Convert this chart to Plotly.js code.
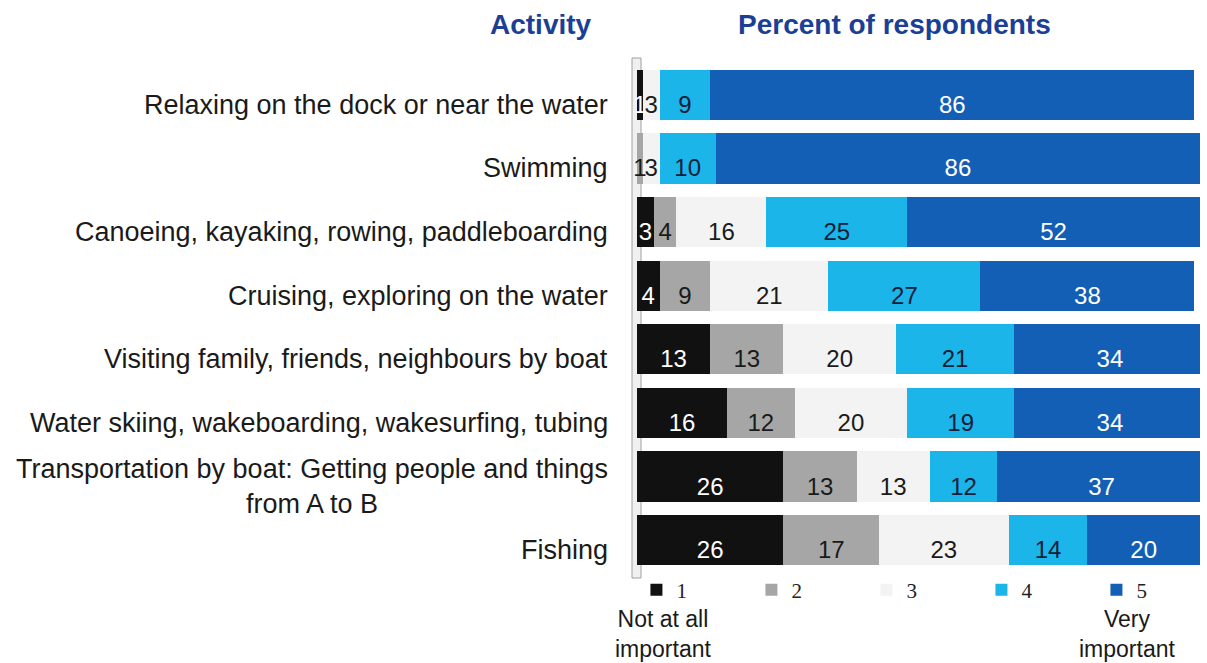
<!DOCTYPE html>
<html>
<head>
<meta charset="utf-8">
<script src="https://cdn.plot.ly/plotly-3.0.1.min.js"></script>
<style>html,body{margin:0;padding:0;background:#fff}#chart{width:1207px;height:663px}</style>
</head>
<body>
<div id="chart"></div>
<script>
const categories = [
  "Relaxing on the dock or near the water",
  "Swimming",
  "Canoeing, kayaking, rowing, paddleboarding",
  "Cruising, exploring on the water",
  "Visiting family, friends, neighbours by boat",
  "Water skiing, wakeboarding, wakesurfing, tubing",
  "Transportation by boat: Getting people and things<br>from A to B",
  "Fishing"
];
const seriesNames = ["1", "2", "3", "4", "5"];
const s1 = [1, 0, 3, 4, 13, 16, 26, 26];
const s2 = [0, 1, 4, 9, 13, 12, 13, 17];
const s3 = [3, 3, 16, 21, 20, 20, 13, 23];
const s4 = [9, 10, 25, 27, 21, 19, 12, 14];
const s5 = [86, 86, 52, 38, 34, 34, 37, 20];
const series = [s1, s2, s3, s4, s5];

const colors = ["#111111", "#a6a6a6", "#f3f3f3", "#1cb5ea", "#135fb5"];
const textColors = ["#ffffff", "#1a1a1a", "#1a1a1a", "#10203a", "#ffffff"];
const FONT = "Liberation Sans, Arial, sans-serif";

// plot-area geometry (pixels) used to place free texts
const W = 1207, H = 663, ML = 637, MR = 7, MT = 63, MB = 91;
const PW = W - ML - MR, PH = H - MT - MB;
const px = x => (x - ML) / PW;
const py = y => (H - MB - y) / PH;

const traces = [];
series.forEach((vals, k) => {
  traces.push({
    type: "bar", orientation: "h", name: seriesNames[k],
    y: categories, x: vals,
    marker: {color: colors[k], line: {width: 0}},
    hoverinfo: "skip"
  });
});
// centred value labels, computed from the data
series.forEach((vals, k) => {
  const xs = vals.map((v, i) => {
    let base = 0;
    for (let j = 0; j < k; j++) base += series[j][i];
    return base + v / 2;
  });
  traces.push({
    type: "scatter", mode: "text", showlegend: false, hoverinfo: "skip",
    y: categories, x: xs,
    text: vals.map(v => v > 0 ? String(v) : ""),
    textposition: "bottom center",
    textfont: {family: FONT, size: 24, color: textColors[k]},
    cliponaxis: false
  });
});

const annotations = categories.map(c => ({
  xref: "paper", yref: "y", x: 0, y: c, xanchor: "right", yanchor: "middle",
  xshift: -27, yshift: -10, text: c, showarrow: false, align: "center",
  font: {family: FONT, size: 27, color: "#1a1a1a"}
}));
const titleFont = {family: FONT, size: 28, color: "#1c3f96"};
const noteFont = {family: FONT, size: 23, color: "#1a1a1a"};
annotations.push(
  {xref: "paper", yref: "paper", x: px(541), y: py(24), xanchor: "center", yanchor: "middle",
   text: "<b>Activity</b>", showarrow: false, font: titleFont},
  {xref: "paper", yref: "paper", x: px(894), y: py(24), xanchor: "center", yanchor: "middle",
   text: "<b>Percent of respondents</b>", showarrow: false, font: titleFont},
  {xref: "paper", yref: "paper", x: px(663), y: py(604), xanchor: "center", yanchor: "top",
   text: "Not at all<br>important", showarrow: false, align: "center", font: noteFont},
  {xref: "paper", yref: "paper", x: px(1127), y: py(604), xanchor: "center", yanchor: "top",
   text: "Very<br>important", showarrow: false, align: "center", font: noteFont}
);

const layout = {
  width: W, height: H,
  margin: {l: ML, r: MR, t: MT, b: MB, autoexpand: false},
  barmode: "stack", bargap: 0.21,
  paper_bgcolor: "#ffffff", plot_bgcolor: "#ffffff",
  xaxis: {range: [0, 100], showgrid: false, zeroline: false, showticklabels: false, showline: false, fixedrange: true},
  yaxis: {autorange: "reversed", showgrid: false, zeroline: false, showticklabels: false,
          showline: false, fixedrange: true},
  shapes: [
    {type: "rect", xref: "paper", yref: "paper", layer: "below",
     x0: px(632), x1: px(641), y0: py(578), y1: py(58),
     fillcolor: "#f0f0f0", line: {color: "#a0a0a0", width: 1}}
  ],
  showlegend: true,
  legend: {orientation: "h", xref: "paper", yref: "paper", x: -0.001, y: py(590),
           xanchor: "left", yanchor: "middle", entrywidth: 70, entrywidthmode: "pixels",
           traceorder: "normal", bgcolor: "rgba(0,0,0,0)",
           font: {family: "Liberation Serif, Times New Roman, serif", size: 21, color: "#222"}},
  annotations: annotations
};

Plotly.newPlot("chart", traces, layout, {displayModeBar: false, staticPlot: true});
</script>
</body>
</html>
